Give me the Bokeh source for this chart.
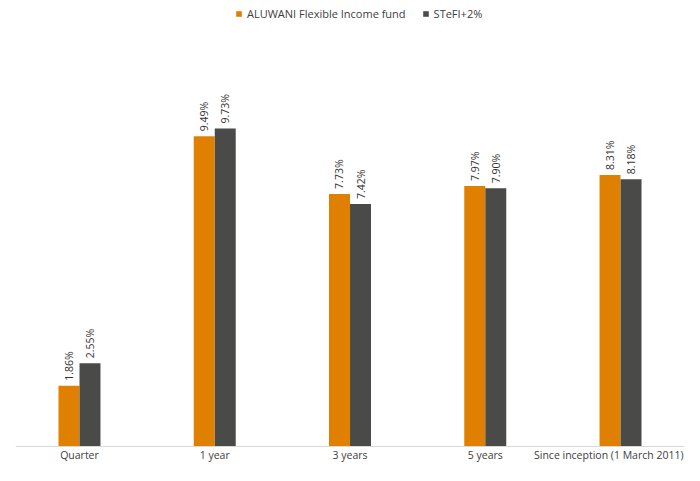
from bokeh.plotting import figure
from bokeh.models import ColumnDataSource, FactorRange, Range1d, Legend, LegendItem, Span
from bokeh.transform import dodge
from bokeh.core.properties import value
from bokeh.embed import file_html
from bokeh.resources import INLINE
import math

categories = ["Quarter", "1 year", "3 years", "5 years", "Since inception (1 March 2011)"]
fund = [1.86, 9.49, 7.73, 7.97, 8.31]
stefi = [2.55, 9.73, 7.42, 7.90, 8.18]
fund_labels = ["1.86%", "9.49%", "7.73%", "7.97%", "8.31%"]
stefi_labels = ["2.55%", "9.73%", "7.42%", "7.90%", "8.18%"]
series_names = ["ALUWANI Flexible Income fund", "STeFI+2%"]

ORANGE = "#E08000"
GRAY = "#4A4A48"
FONT = "Open Sans"

src = ColumnDataSource(dict(cat=categories, fund=fund, stefi=stefi,
                            fl=fund_labels, sl=stefi_labels))

x_range = FactorRange(*categories, range_padding=-0.027, range_padding_units="absolute")
p = figure(x_range=x_range, y_range=Range1d(-0.581, 13.647), width=684, height=465,
           output_backend="svg", toolbar_location=None,
           min_border_left=15, min_border_right=0, min_border_top=0, min_border_bottom=0)

off = 0.0777
bw = 0.155
r1 = p.vbar(x=dodge("cat", -off, range=x_range), top="fund", width=bw, source=src,
            fill_color=ORANGE, line_color=None)
r2 = p.vbar(x=dodge("cat", off, range=x_range), top="stefi", width=bw, source=src,
            fill_color=GRAY, line_color=None)

for col, lab, o in (("fund", "fl", -off), ("stefi", "sl", off)):
    p.text(x=dodge("cat", o, range=x_range), y=col, text=lab, source=src,
           angle=math.pi / 2, text_align="left", text_baseline="middle",
           y_offset=-5, text_font=value(FONT), text_font_size="10.5px",
           text_color="#333333")

# baseline (category axis line)
p.add_layout(Span(location=0, dimension="width", line_color="#D9D9D9", line_width=1))

# category labels drawn in the frame (the frame reaches the bottom edge)
n = len(categories)
cat_src = ColumnDataSource(dict(cat=categories[:n - 1], zero=[0] * (n - 1)))
last_src = ColumnDataSource(dict(cat=categories[n - 1:], zero=[0]))
p.text(x="cat", y="zero", text="cat", source=cat_src, text_align="center",
       text_baseline="top", y_offset=1, text_font=value(FONT),
       text_font_size="10.5px", text_color="#404040")
p.text(x="cat", y="zero", text="cat", source=last_src, text_align="right",
       text_baseline="top", y_offset=1, x_offset=63, text_font=value(FONT),
       text_font_size="10.5px", text_color="#404040")

p.xaxis.visible = False
p.yaxis.visible = False
p.xgrid.grid_line_color = None
p.ygrid.grid_line_color = None
p.outline_line_color = None
p.background_fill_color = "white"
p.border_fill_color = "white"

legend = Legend(items=[LegendItem(label=series_names[0], renderers=[r1]),
                       LegendItem(label=series_names[1], renderers=[r2])],
                orientation="horizontal", location=(220, 444),
                glyph_width=7, glyph_height=7, label_text_font=FONT,
                label_text_font_size="11px", label_text_color="#404040",
                spacing=16, padding=2, margin=0, label_standoff=5,
                border_line_color=None, background_fill_alpha=0)
p.add_layout(legend, "center")

open("out.html", "w").write(file_html(p, INLINE))
